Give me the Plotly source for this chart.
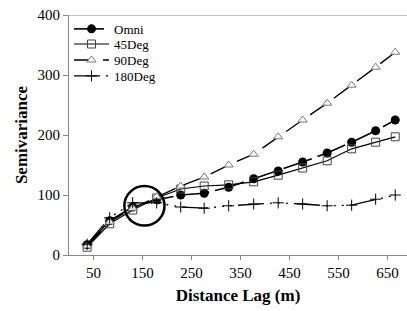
import plotly.graph_objects as go

lags = [37, 83, 130, 179, 228, 276, 326, 377, 427, 477, 527, 577, 626, 666]
omni = [17, 57, 80, 92, 100, 103, 113, 127, 140, 155, 170, 188, 207, 225]
deg45 = [13, 52, 75, 95, 110, 115, 117, 122, 133, 145, 157, 177, 188, 197]
deg90 = [15, 55, 78, 97, 115, 130, 150, 168, 197, 225, 253, 283, 313, 338]
deg180 = [18, 62, 87, 87, 80, 78, 82, 85, 87, 85, 82, 83, 93, 100]

xticks = [50, 150, 250, 350, 450, 550, 650]
yticks = [0, 100, 200, 300, 400]

FONT = "Liberation Serif"

fig = go.Figure()
fig.add_trace(go.Scatter(
    x=lags, y=omni, name="Omni", mode="lines+markers", legend="legend",
    line=dict(color="black", width=1.6, dash="30px,6px"),
    marker=dict(symbol="circle", size=9, color="black"),
))
fig.add_trace(go.Scatter(
    x=lags, y=deg45, name="45Deg", mode="lines+markers", legend="legend2",
    line=dict(color="black", width=1.2),
    marker=dict(symbol="square-open", size=8, color="#444",
                line=dict(width=1)),
))
fig.add_trace(go.Scatter(
    x=lags, y=deg90, name="90Deg", mode="lines+markers", legend="legend3",
    line=dict(color="black", width=1.4, dash="20px,9px"),
    marker=dict(symbol="triangle-up", size=8, color="white",
                line=dict(color="#777", width=1)),
))
fig.add_trace(go.Scatter(
    x=lags, y=deg180, name="180Deg", mode="lines+markers", legend="legend4",
    line=dict(color="black", width=1.3, dash="26px,6px,2px,6px,2px,6px,2px,6px"),
    marker=dict(symbol="cross-thin", size=8, color="black",
                line=dict(color="black", width=1)),
))

# circle highlight
fig.add_shape(type="circle", xref="x", yref="y",
              x0=113, x1=195, y0=49, y1=115,
              line=dict(color="black", width=2.5))
# top line at 400
fig.add_shape(type="line", xref="paper", yref="y", x0=0, x1=1, y0=400, y1=400,
              line=dict(color="#888", width=1))

def leg(y):
    return dict(x=0.0, y=y, xanchor="left", yanchor="middle",
                font=dict(family=FONT, size=13), bgcolor="rgba(0,0,0,0)",
                itemwidth=35)

fig.update_layout(
    width=407, height=311,
    margin=dict(l=69, r=0, t=15, b=56),
    paper_bgcolor="white", plot_bgcolor="white",
    font=dict(family=FONT, size=15, color="black"),
    showlegend=True,
    legend=leg(0.942), legend2=leg(0.879), legend3=leg(0.8125), legend4=leg(0.746),
)
fig.update_xaxes(
    range=[0, 690], tickvals=xticks, showgrid=False, zeroline=False,
    showline=True, linecolor="#888", linewidth=1, automargin=False,
    ticks="outside", ticklen=4, tickcolor="#888", ticklabeloverflow="allow",
    title=dict(text="<b>Distance Lag (m)</b>", font=dict(size=17), standoff=9),
)
fig.update_yaxes(
    range=[0, 400], tickvals=yticks, showgrid=False, zeroline=False,
    showline=True, linecolor="#888", linewidth=1, automargin=False,
    ticks="outside", ticklen=5, tickcolor="#888", ticklabeloverflow="allow",
    title=dict(text="<b>Semivariance</b>", font=dict(size=17), standoff=5),
)

fig.write_html("out.html", config={"displayModeBar": False},
               post_script="document.body.style.margin='0';document.body.style.overflow='hidden';")
